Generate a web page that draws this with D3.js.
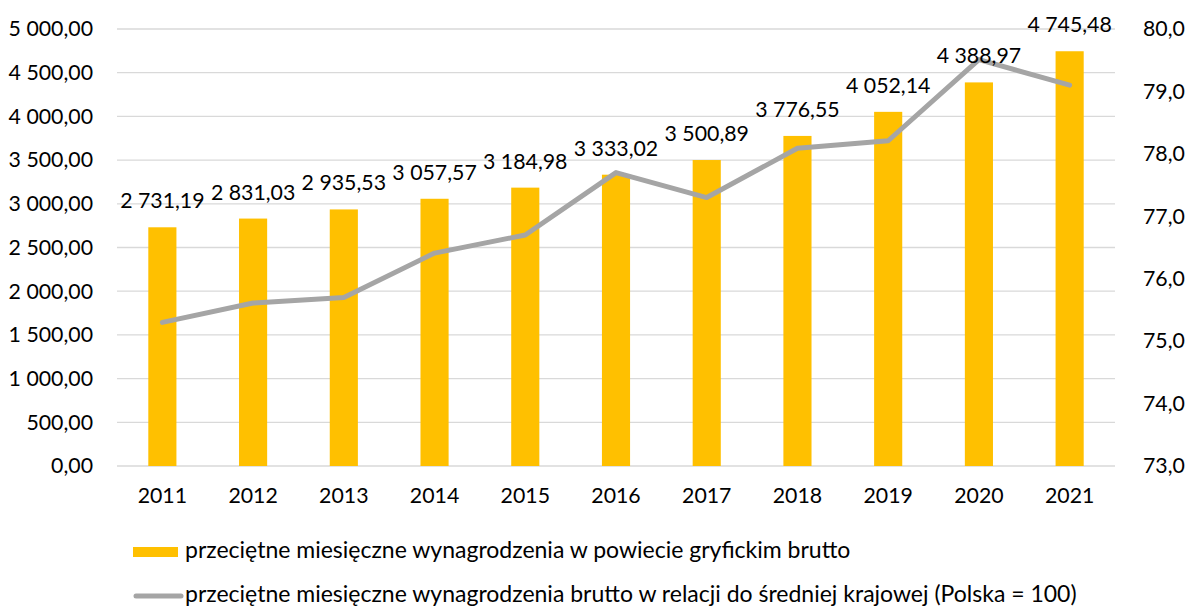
<!DOCTYPE html>
<html>
<head>
<meta charset="utf-8">
<script src="https://cdn.jsdelivr.net/npm/d3@7"></script>
<style>
  html, body { margin: 0; padding: 0; background: #fff; }
  svg { display: block; font-family: Lato, "Open Sans", sans-serif; }
</style>
</head>
<body>
<svg id="chart" width="1188" height="606"></svg>
<script>
// Years on the category axis
const years = ["2011","2012","2013","2014","2015","2016","2017","2018","2019","2020","2021"];
// Average monthly gross wage in the county (PLN)
const wages = [2731.19, 2831.03, 2935.53, 3057.57, 3184.98, 3333.02, 3500.89, 3776.55, 4052.14, 4388.97, 4745.48];
// Wage relative to the national average (Poland = 100)
const relative = [75.30, 75.61, 75.70, 76.41, 76.70, 77.70, 77.30, 78.09, 78.21, 79.51, 79.10];
// Axis ticks
const leftTicks = [0, 500, 1000, 1500, 2000, 2500, 3000, 3500, 4000, 4500, 5000];
const rightTicks = [73, 74, 75, 76, 77, 78, 79, 80];
// Legend entries
const legendLabels = [
  "przeciętne miesięczne wynagrodzenia w powiecie gryfickim brutto",
  "przeciętne miesięczne wynagrodzenia brutto w relacji do średniej krajowej (Polska = 100)"
];

const BAR = "#FFC000", LINE = "#A5A5A5", GRID = "#D9D9D9", TEXT = "#000";
const FS_NUM = 21.3, FS_LEG = 23;
const svg = d3.select("#chart");
const plot = { left: 117, right: 1115, top: 29, bottom: 466 };

const x = d3.scaleBand().domain(years).range([plot.left, plot.right]).paddingInner(0.69).paddingOuter(0.345);
const yL = d3.scaleLinear().domain([0, 5000]).range([plot.bottom, plot.top]);
const yR = d3.scaleLinear().domain([73, 80]).range([plot.bottom, plot.top]);

// Polish number formatting: space as thousands separator, comma as decimal mark
const pl = d3.formatLocale({ decimal: ",", thousands: " ", grouping: [3], currency: ["", " zł"] });
const f2 = pl.format(",.2f");
const f1 = pl.format(".1f");

// Horizontal gridlines
svg.append("g").selectAll("line").data(leftTicks).join("line")
  .attr("x1", plot.left).attr("x2", plot.right)
  .attr("y1", d => yL(d)).attr("y2", d => yL(d))
  .attr("stroke", GRID).attr("stroke-width", 1.3);

function styleAxis(g) {
  g.select(".domain").remove();
  g.selectAll("text").attr("font-size", FS_NUM).attr("fill", TEXT).attr("font-family", "Lato, sans-serif");
}

// Left axis
svg.append("g").attr("transform", `translate(${plot.left - 24},0)`)
  .call(d3.axisLeft(yL).tickValues(leftTicks).tickFormat(f2).tickSize(0).tickPadding(0))
  .call(styleAxis);

// Right axis
svg.append("g").attr("transform", `translate(${plot.right + 28},0)`)
  .call(d3.axisRight(yR).tickValues(rightTicks).tickFormat(f1).tickSize(0).tickPadding(0))
  .call(styleAxis);

// Category axis
svg.append("g").attr("transform", `translate(0,${plot.bottom + 22})`)
  .call(d3.axisBottom(x).tickSize(0).tickPadding(0))
  .call(styleAxis);

// Bars
svg.append("g").selectAll("rect").data(years).join("rect")
  .attr("x", d => x(d)).attr("width", x.bandwidth())
  .attr("y", (d, i) => yL(wages[i])).attr("height", (d, i) => yL(0) - yL(wages[i]))
  .attr("fill", BAR);

// Relative wage line
const line = d3.line().x((d, i) => x(years[i]) + x.bandwidth() / 2).y(d => yR(d));
svg.append("path").datum(relative).attr("d", line)
  .attr("fill", "none").attr("stroke", LINE).attr("stroke-width", 5)
  .attr("stroke-linejoin", "round").attr("stroke-linecap", "round");

// Value labels above bars
svg.append("g").selectAll("text").data(years).join("text")
  .attr("x", d => x(d) + x.bandwidth() / 2)
  .attr("y", (d, i) => yL(wages[i]) - 19)
  .attr("text-anchor", "middle").attr("font-size", FS_NUM).attr("fill", TEXT)
  .text((d, i) => f2(wages[i]));

// Legend
const lg = svg.append("g");
lg.append("rect").attr("x", 133).attr("y", 547).attr("width", 45).attr("height", 10).attr("fill", BAR);
lg.append("line").attr("x1", 136).attr("x2", 181).attr("y1", 596).attr("y2", 596)
  .attr("stroke", LINE).attr("stroke-width", 5).attr("stroke-linecap", "round");
lg.selectAll("text").data(legendLabels).join("text")
  .attr("x", 185).attr("y", (d, i) => i === 0 ? 558 : 602)
  .attr("font-size", FS_LEG).attr("fill", TEXT).text(d => d);
</script>
</body>
</html>
